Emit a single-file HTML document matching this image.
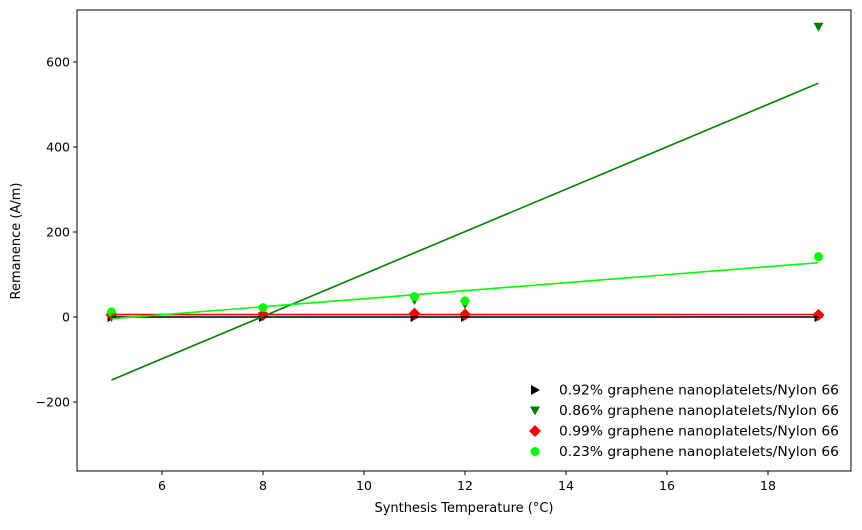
<!DOCTYPE html>
<html><head><meta charset="utf-8"><style>
body{margin:0;background:#fff;}
svg{font-family:"DejaVu Sans","Liberation Sans",sans-serif;}
</style></head><body>
<svg id="chart" width="862" height="525" viewBox="0 0 862 525" xmlns="http://www.w3.org/2000/svg">
<rect x="0" y="0" width="862" height="525" fill="#fff"/>
<g id="marks"></g>
<rect x="77" y="10" width="774" height="461" fill="none" stroke="#000" stroke-width="1"/>
<g id="xticks"></g><g id="yticks"></g>
<text x="464" y="512" font-size="13" text-anchor="middle">Synthesis Temperature (°C)</text>
<text transform="translate(20,241) rotate(-90)" font-size="13" text-anchor="middle">Remanence (A/m)</text>
<g id="legend"></g>
</svg>
<script>
const temps=[5,8,11,12,19];
const s092=[0,0,0,0,0];
const s086=[0,2,40,30,683];
const s099=[5,5,8,6,5];
const s023=[12,22,48,38,142];
const xTicks=[6,8,10,12,14,16,18];
const yTicks=[-200,0,200,400,600];
const labels=["0.92% graphene nanoplatelets/Nylon 66","0.86% graphene nanoplatelets/Nylon 66","0.99% graphene nanoplatelets/Nylon 66","0.23% graphene nanoplatelets/Nylon 66"];
const NS="http://www.w3.org/2000/svg";
const X=v=>162+(v-6)*50.5;
const Y=v=>317-v*0.425;
function mk(t,a,p){const e=document.createElementNS(NS,t);for(const k in a)e.setAttribute(k,a[k]);p.appendChild(e);return e;}
const marks=document.getElementById('marks');
function fit(xs,ys){const n=xs.length,mx=xs.reduce((a,b)=>a+b)/n,my=ys.reduce((a,b)=>a+b)/n;let sxy=0,sxx=0;for(let i=0;i<n;i++){sxy+=(xs[i]-mx)*(ys[i]-my);sxx+=(xs[i]-mx)**2;}const m=sxy/sxx;return [m,my-m*mx];}
function marker(type,cx,cy,color,parent){
 let e;
 if(type==='>')e=mk('polygon',{points:`${cx-4},${cy-5} ${cx+5},${cy} ${cx-4},${cy+5}`,fill:color},parent);
 else if(type==='v')e=mk('polygon',{points:`${cx-5},${cy-4} ${cx+5},${cy-4} ${cx},${cy+5}`,fill:color},parent);
 else if(type==='D')e=mk('polygon',{points:`${cx},${cy-6} ${cx+6},${cy} ${cx},${cy+6} ${cx-6},${cy}`,fill:color},parent);
 else e=mk('circle',{cx:cx,cy:cy,r:4.5,fill:color},parent);
 return e;
}
const series=[[s092,'>','#000000','#000000'],[s086,'v','#007f00','#008000'],[s099,'D','#ff0000','#ff0000'],[s023,'o','#00ff00','#00ff00']];
const names=['092','086','099','023'];
series.forEach((s,i)=>{
 s[0].forEach((v,j)=>{const m=marker(s[1],X(temps[j]),Y(v),s[2],marks);
  
  });
});
series.forEach((s,i)=>{
 const [m,b]=fit(temps,s[0]);const x0=temps[0],x1=temps[temps.length-1];
 const l=mk('line',{x1:X(x0),y1:Y(m*x0+b),x2:X(x1),y2:Y(m*x1+b),stroke:s[3],'stroke-width':1.6},marks);
 
 
});
const xt=document.getElementById('xticks');
xTicks.forEach(v=>{mk('line',{x1:X(v),x2:X(v),y1:471,y2:475,stroke:'#000'},xt);
 const t=mk('text',{x:X(v),y:490,'font-size':12.5,'text-anchor':'middle'},xt);t.textContent=v;
 
 });
const yt=document.getElementById('yticks');
yTicks.forEach(v=>{mk('line',{x1:73,x2:77,y1:Y(v),y2:Y(v),stroke:'#000'},yt);
 const t=mk('text',{x:70,y:Y(v)+4.5,'font-size':12.5,'text-anchor':'end'},yt);t.textContent=(v<0?'\u2212'+(-v):v);
 
 });
const lg=document.getElementById('legend');
series.forEach((s,i)=>{const y=390+i*20.5;
 const g=mk('g',{},lg);
 
 
 marker(s[1],535,y,s[2],g);
 const t=mk('text',{x:559,y:y+4.5,'font-size':13,textLength:280,lengthAdjust:'spacingAndGlyphs'},g);t.textContent=labels[i];});
</script>
</body></html>
